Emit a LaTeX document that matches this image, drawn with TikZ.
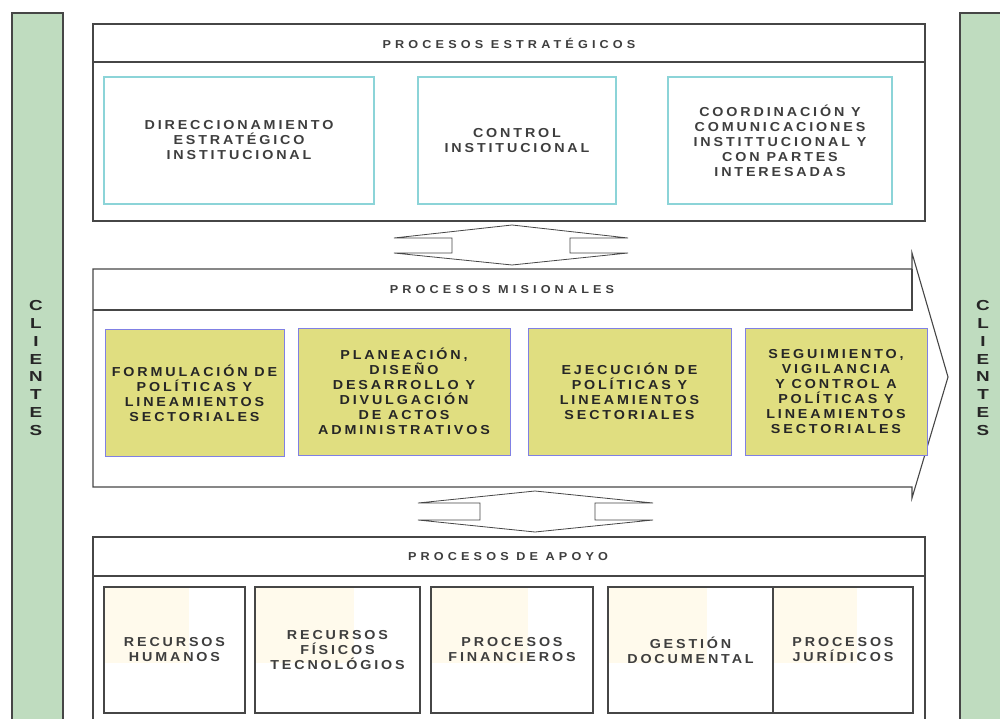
\documentclass[tikz,border=0pt]{standalone}
\usepackage{fontspec}
\usepackage{tikz}
\usetikzlibrary{calc}
\newfontfamily\procfont[FakeStretch=1.1,LetterSpace=22,UprightFont={* Bold}]{Liberation Sans}
\newfontfamily\headfont[FakeStretch=1.1,LetterSpace=36,UprightFont={* Bold}]{Liberation Sans}
\newfontfamily\clientfont[FakeStretch=1.3,UprightFont={* Bold}]{Liberation Sans}
\definecolor{clientGreen}{RGB}{191,220,191}
\definecolor{frameGray}{RGB}{70,70,70}
\definecolor{textGray}{RGB}{62,62,62}
\definecolor{stratCyan}{RGB}{140,212,216}
\definecolor{misYellow}{RGB}{224,222,128}
\definecolor{misBlue}{RGB}{128,128,228}
\definecolor{apoyoCream}{RGB}{255,250,236}

\begin{document}
\begin{tikzpicture}[x=1pt, y=-1pt,
    frame/.style={draw=frameGray, line width=1.1pt},
    title/.style={font=\headfont\fontsize{11.5}{15}\selectfont, text=textGray},
    boxtext/.style={font=\procfont\fontsize{13}{15}\selectfont, align=center, inner sep=0pt},
    stratbox/.style={boxtext, draw=stratCyan, line width=1.2pt, text=textGray, minimum height=127pt},
    misbox/.style={boxtext, draw=misBlue, fill=misYellow, line width=1pt, text=black!85, minimum height=127pt},
    apoyobox/.style={boxtext, frame, text=textGray, minimum height=126pt,
        path picture={\fill[apoyoCream] (path picture bounding box.north west) rectangle
            ($(path picture bounding box.north west)!0.6!(path picture bounding box.south east)$);}},
    clients/.style={font=\clientfont\fontsize{14.5}{17.9}\selectfont, align=center, text=black!85},
    twoway/.style={draw=frameGray, line width=0.8pt, fill=white}
]
    \useasboundingbox (0,0) rectangle (1000,719);
    %\draw[step=50, gray, very thin] (0,0) grid (1000,719);

    % clientes
    \draw[frame, fill=clientGreen] (12,13) rectangle (63,730);
    \draw[frame, fill=clientGreen] (960,13) rectangle (1010,730);
    \node[clients] (clientesL) at (36,368) {C\\L\\I\\E\\N\\T\\E\\S};
    \node[clients] (clientesR) at (983,368) {C\\L\\I\\E\\N\\T\\E\\S};

    % procesos estrategicos
    \draw[frame] (93,24) rectangle (925,221);
    \draw[frame] (93,62) -- (925,62);
    \node[title] (estTitle) at (509,43) {PROCESOS ESTRATÉGICOS};
    \node[stratbox, minimum width=270pt] (direccion) at (239,140.5) {DIRECCIONAMIENTO\\ESTRATÉGICO\\INSTITUCIONAL};
    \node[stratbox, minimum width=198pt] (control) at (517,140.5) {CONTROL\\INSTITUCIONAL};
    \node[stratbox, minimum width=224pt] (coordina) at (780,140.5) {COORDINACIÓN Y\\COMUNICACIONES\\INSTITTUCIONAL Y\\CON PARTES\\INTERESADAS};

    % flecha doble superior
    \draw[twoway] (394,238) -- (512,225) -- (628,238) -- (570,238) -- (570,253) -- (628,253)
        -- (512,265) -- (394,253) -- (452,253) -- (452,238) -- cycle;

    % procesos misionales
    \draw[frame] (93,269) -- (912,269) -- (912,253) -- (948,377) -- (912,498) -- (912,487) -- (93,487) -- cycle;
    \draw[frame] (93,310) -- (912,310) -- (912,269);
    \node[title] (misTitle) at (502,290) {PROCESOS MISIONALES};
    \node[misbox, minimum width=179pt] (formula) at (194.5,393) {FORMULACIÓN DE\\POLÍTICAS Y\\LINEAMIENTOS\\SECTORIALES};
    \node[misbox, minimum width=212pt] (planea) at (404,391.5) {PLANEACIÓN,\\DISEÑO\\DESARROLLO Y\\DIVULGACIÓN\\DE ACTOS\\ADMINISTRATIVOS};
    \node[misbox, minimum width=203pt] (ejecuta) at (629.5,391.5) {EJECUCIÓN DE\\POLÍTICAS Y\\LINEAMIENTOS\\SECTORIALES};
    \node[misbox, minimum width=182pt] (seguim) at (836,391.5) {SEGUIMIENTO,\\VIGILANCIA\\Y CONTROL A\\POLÍTICAS Y\\LINEAMIENTOS\\SECTORIALES};

    % flecha doble inferior
    \draw[twoway] (418,503) -- (535,491) -- (653,503) -- (595,503) -- (595,520) -- (653,520)
        -- (535,532) -- (418,520) -- (480,520) -- (480,503) -- cycle;

    % procesos de apoyo
    \draw[frame] (93,537) rectangle (925,730);
    \draw[frame] (93,576) -- (925,576);
    \node[title] (apoTitle) at (508,557) {PROCESOS DE APOYO};
    \node[apoyobox, minimum width=141pt] (humanos) at (174.5,650) {RECURSOS\\HUMANOS};
    \node[apoyobox, minimum width=165pt] (fisicos) at (337.5,650) {RECURSOS\\FÍSICOS\\TECNOLÓGIOS};
    \node[apoyobox, minimum width=162pt] (financ) at (512,650) {PROCESOS\\FINANCIEROS};
    \node[apoyobox, minimum width=165pt] (gestion) at (690.5,650) {GESTIÓN\\DOCUMENTAL};
    \node[apoyobox, minimum width=140pt] (juridico) at (843,650) {PROCESOS\\JURÍDICOS};
\end{tikzpicture}
\end{document}
